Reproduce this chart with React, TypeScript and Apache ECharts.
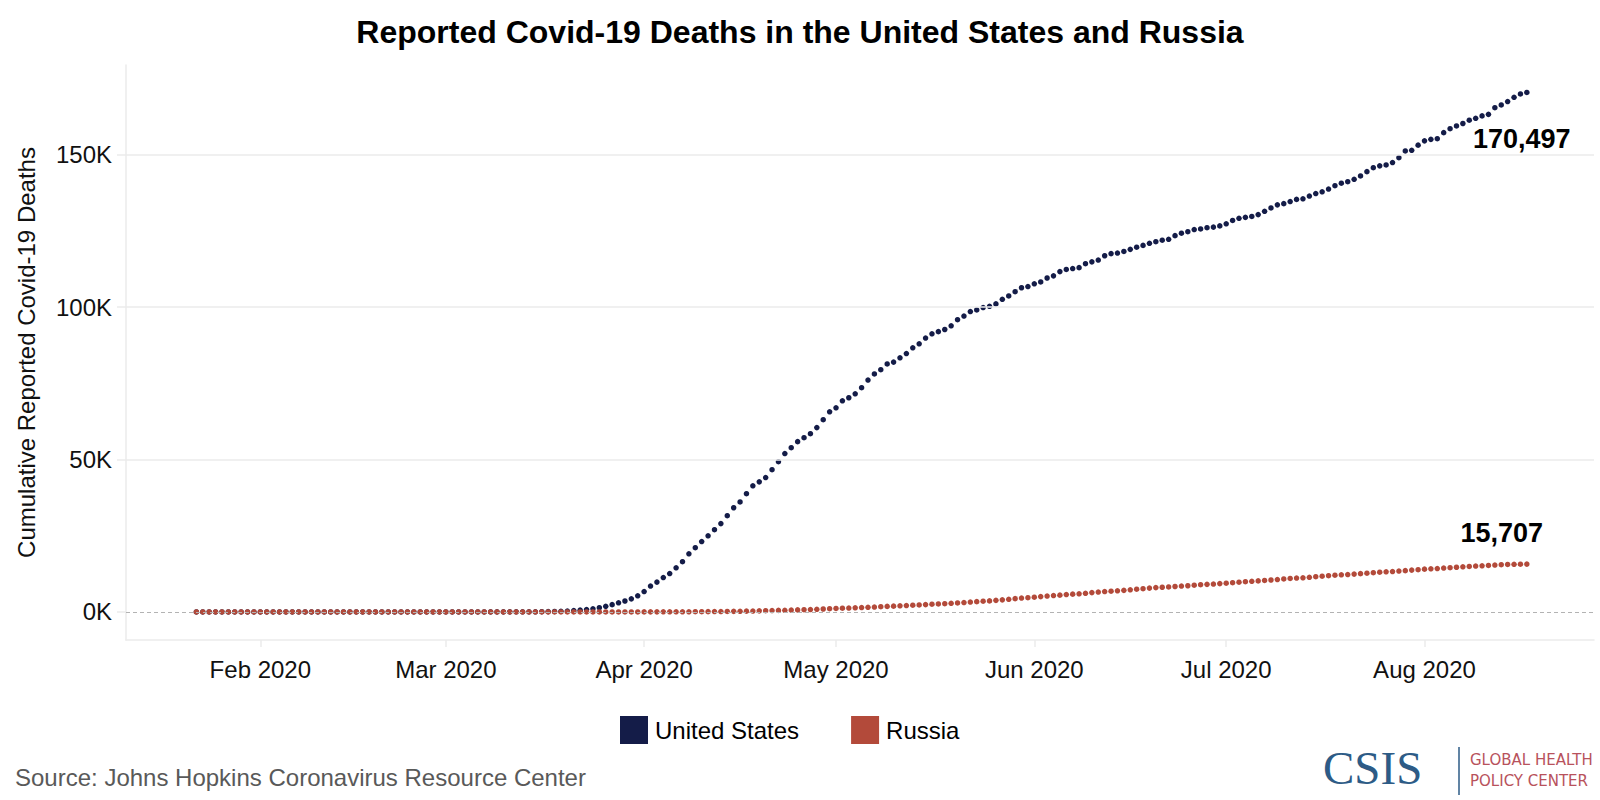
import { useEffect, useRef } from 'react';
import * as echarts from 'echarts';

// cumulative deaths, one value per day starting 22 Jan 2020
const usJan = [0, 0, 0, 0, 0, 0, 0, 0, 0, 0];
const usFeb = [0, 0, 0, 0, 0, 0, 0, 0, 0, 0, 0, 0, 0, 0, 0, 0, 0, 0, 0, 0, 0, 0, 0, 0, 0, 0, 0, 0, 1];
const usMar = [
  1, 6, 9, 11, 12, 15, 19, 22, 26, 30, 38, 41, 48, 57, 68, 91, 117, 162, 212, 277,
  450, 600, 800, 1050, 1400, 1850, 2400, 3000, 3600, 4300, 5300,
];
const usApr = [
  6700, 8500, 9800, 11300, 12600, 14500, 16500, 19100, 21100, 23100, 25000, 27000, 29000, 31600, 34200,
  36100, 38800, 41400, 42700, 44100, 46700, 49300, 52000, 53900, 55900, 57200, 58500, 60500, 63100, 65700,
];
const usMay = [
  67000, 69300, 70300, 71600, 73600, 76100, 78100, 79500, 81400, 82000, 83400, 84800, 86700, 88000, 89900,
  91300, 92000, 92700, 93900, 95900, 97100, 98600, 99100, 99900, 100300, 101100, 102600, 103700, 105100,
  106400, 106800,
];
const usJun = [
  107700, 108300, 109600, 110300, 111700, 112400, 112700, 113000, 114300, 114900, 115500, 116900, 117600,
  117800, 118300, 119000, 119700, 120300, 121000, 121500, 122000, 122300, 123500, 124300, 124800, 125500,
  125700, 126100, 126300, 126700,
];
const usJul = [
  127400, 128500, 129200, 129500, 129800, 130400, 131500, 132600, 133600, 134000, 134700, 135400, 135600,
  136500, 137300, 137900, 138800, 139900, 140700, 141200, 142000, 143100, 144500, 145800, 146400, 146700,
  147500, 149100, 151300, 151500, 153200,
];
const usAug = [
  154600, 155100, 155300, 157300, 158600, 159500, 160300, 161400, 162000, 162800, 163300, 165500, 166400,
  167500, 168900, 170000, 170497,
];

const ruJan = [0, 0, 0, 0, 0, 0, 0, 0, 0, 0];
const ruFeb = [0, 0, 0, 0, 0, 0, 0, 0, 0, 0, 0, 0, 0, 0, 0, 0, 0, 0, 0, 0, 0, 0, 0, 0, 0, 0, 0, 0, 0];
const ruMar = [
  0, 0, 0, 0, 0, 0, 0, 0, 0, 0, 0, 0, 0, 0, 0, 0, 0, 0, 1, 1, 1, 1, 1, 1, 3, 3, 4, 4, 8, 9, 17,
];
const ruApr = [
  24, 30, 34, 43, 45, 47, 58, 63, 76, 94, 106, 130, 148, 170, 198, 232, 273, 313, 361, 405, 456, 513, 555,
  615, 681, 747, 794, 867, 972, 1073,
];
const ruMay = [
  1169, 1222, 1280, 1356, 1451, 1537, 1625, 1723, 1827, 1915, 2009, 2116, 2212, 2305, 2418, 2537, 2631,
  2722, 2837, 2972, 3099, 3249, 3388, 3541, 3633, 3807, 3968, 4142, 4374, 4555, 4693,
];
const ruJun = [
  4855, 5037, 5215, 5384, 5520, 5717, 5851, 5963, 6134, 6350, 6532, 6705, 6829, 6948, 7091, 7284, 7478,
  7650, 7831, 7992, 8111, 8206, 8359, 8513, 8605, 8781, 8959, 9060, 9152, 9306,
];
const ruJul = [
  9452, 9606, 9760, 9927, 10062, 10196, 10332, 10491, 10650, 10826, 10993, 11120, 11226, 11388, 11561,
  11736, 11908, 12060, 12196, 12282, 12427, 12580, 12726, 12872, 13046, 13172, 13267, 13413, 13563, 13735,
  13882,
];
const ruAug = [
  14058, 14168, 14262, 14399, 14539, 14674, 14833, 14946, 15069, 15158, 15275, 15398, 15498, 15585, 15653,
  15685, 15707,
];

const monthNames = ['Jan', 'Feb', 'Mar', 'Apr', 'May', 'Jun', 'Jul', 'Aug'];
const tickMonths = [1, 2, 3, 4, 5, 6, 7];
const yTicks = [0, 50000, 100000, 150000];

const usValues = [...usJan, ...usFeb, ...usMar, ...usApr, ...usMay, ...usJun, ...usJul, ...usAug];
const ruValues = [...ruJan, ...ruFeb, ...ruMar, ...ruApr, ...ruMay, ...ruJun, ...ruJul, ...ruAug];

const US_COLOR = '#141c48';
const RU_COLOR = '#b34a3a';
const GRID_COLOR = '#ebebeb';
const FONT = "'Liberation Sans', Arial, Helvetica, sans-serif";

function dayTime(i: number) {
  return new Date(2020, 0, 22 + i).getTime();
}

function toPoints(values: number[], labelOffset: number[]) {
  const last = values.length - 1;
  return values.map((v, i) =>
    i === last
      ? {
          value: [dayTime(i), v],
          label: {
            show: true,
            position: 'inside',
            offset: labelOffset,
            formatter: v.toLocaleString('en-US'),
            color: '#000',
            fontSize: 27,
            fontWeight: 'bold',
            fontFamily: FONT,
          },
        }
      : [dayTime(i), v],
  );
}

export default function App() {
  const chartRef = useRef<HTMLDivElement>(null);

  useEffect(() => {
    document.body.style.margin = '0';
    if (!chartRef.current) return;
    const chart = echarts.init(chartRef.current, null, { renderer: 'svg' });

    const monthTicks = tickMonths.map((m) => new Date(2020, m, 1).getTime());

    chart.setOption({
      animation: false,
      backgroundColor: '#fff',
      textStyle: { fontFamily: FONT },
      title: {
        text: 'Reported Covid-19 Deaths in the United States and Russia',
        left: 'center',
        top: 11,
        textStyle: { fontSize: 32, fontWeight: 'bold', color: '#000', fontFamily: FONT },
      },
      grid: { left: 126, right: 6, top: 65, bottom: 160 },
      legend: {
        data: ['United States', 'Russia'],
        left: 620,
        top: 716,
        padding: 0,
        icon: 'rect',
        itemWidth: 28,
        itemHeight: 28,
        itemGap: 52,
        textStyle: { fontSize: 24, color: '#000', fontFamily: FONT, padding: [0, 0, 0, 2] },
      },
      xAxis: {
        type: 'value',
        min: new Date(2020, 0, 11).getTime(),
        max: new Date(2020, 7, 27, 12).getTime(),
        axisLine: { onZero: false, lineStyle: { color: GRID_COLOR, width: 1.5 } },
        axisTick: {
          show: true,
          customValues: monthTicks,
          length: 7,
          lineStyle: { color: GRID_COLOR, width: 1.5 },
        },
        axisLabel: {
          customValues: monthTicks,
          margin: 17,
          fontSize: 24,
          color: '#111',
          fontFamily: FONT,
          formatter: (v: number) => {
            const d = new Date(v);
            return `${monthNames[d.getMonth()]} ${d.getFullYear()}`;
          },
        },
        splitLine: { show: false },
      },
      yAxis: {
        type: 'value',
        min: -9200,
        max: 179500,
        name: 'Cumulative Reported Covid-19 Deaths',
        nameLocation: 'middle',
        nameGap: 88,
        nameTextStyle: { fontSize: 24, color: '#111', fontFamily: FONT },
        axisLine: { show: true, lineStyle: { color: GRID_COLOR, width: 1.5 } },
        axisTick: {
          show: true,
          customValues: yTicks,
          length: 9,
          lineStyle: { color: GRID_COLOR, width: 1.5 },
        },
        axisLabel: {
          customValues: yTicks,
          margin: 14,
          fontSize: 24,
          color: '#111',
          fontFamily: FONT,
          formatter: (v: number) => `${Math.round(v / 1000)}K`,
        },
        splitLine: { show: false },
      },
      series: [
        {
          name: 'grid',
          type: 'line',
          data: [],
          z: 1,
          silent: true,
          markLine: {
            silent: true,
            symbol: ['none', 'none'],
            label: { show: false },
            data: [
              ...yTicks
                .filter((v) => v > 0)
                .map((v) => ({ yAxis: v, lineStyle: { color: GRID_COLOR, width: 1.5, type: 'solid' } })),
              { yAxis: 0, lineStyle: { color: '#b3b3b3', width: 1, type: [4, 3] } },
            ],
          },
        },
        {
          name: 'United States',
          type: 'scatter',
          symbol: 'circle',
          symbolSize: 5.5,
          z: 3,
          itemStyle: { color: US_COLOR, opacity: 1 },
          data: toPoints(usValues, [-5, 47]),
        },
        {
          name: 'Russia',
          type: 'scatter',
          symbol: 'circle',
          symbolSize: 5.5,
          z: 4,
          itemStyle: { color: RU_COLOR, opacity: 1 },
          data: toPoints(ruValues, [-25, -31]),
        },
      ],
      graphic: [
        {
          type: 'text',
          left: 15,
          top: 765,
          style: {
            text: 'Source: Johns Hopkins Coronavirus Resource Center',
            fontSize: 24,
            fill: '#595959',
            fontFamily: FONT,
          },
        },
        {
          type: 'text',
          left: 1323,
          top: 744,
          style: {
            text: 'CSIS',
            fontSize: 47,
            fill: '#2d5b86',
            fontFamily: "'Liberation Serif', 'DejaVu Serif', serif",
          },
        },
        {
          type: 'line',
          shape: { x1: 1459, y1: 747, x2: 1459, y2: 795 },
          style: { stroke: '#2d5b86', lineWidth: 1.5 },
        },
        {
          type: 'text',
          left: 1470,
          top: 752,
          style: {
            text: 'GLOBAL HEALTH',
            fontSize: 15,
            fill: '#b8525c',
            fontFamily: "'DejaVu Sans', sans-serif",
          },
        },
        {
          type: 'text',
          left: 1470,
          top: 773,
          style: {
            text: 'POLICY CENTER',
            fontSize: 15,
            fill: '#b8525c',
            fontFamily: "'DejaVu Sans', sans-serif",
          },
        },
      ],
    });

    return () => {
      chart.dispose();
    };
  }, []);

  return <div ref={chartRef} style={{ width: '1600px', height: '800px' }} />;
}
